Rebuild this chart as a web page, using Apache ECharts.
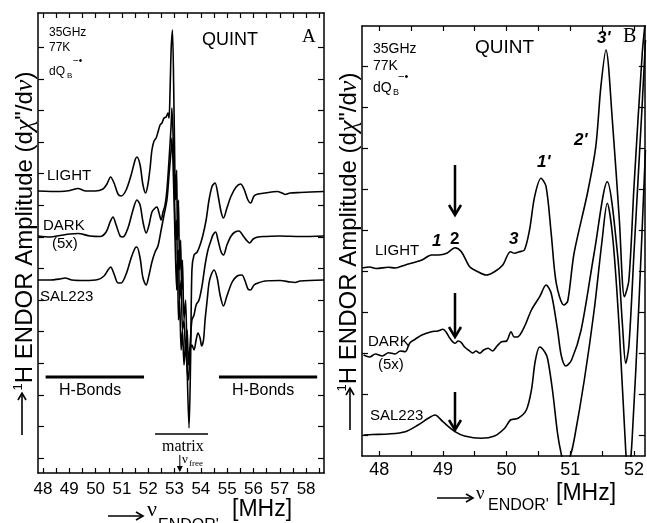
<!DOCTYPE html>
<html>
<head>
<meta charset="utf-8">
<title>QUINT 1H ENDOR</title>
<script src="https://cdn.jsdelivr.net/npm/echarts@6.0.0/dist/echarts.min.js"></script>
<style>
html, body { margin: 0; padding: 0; background: #fff; }
#chart { width: 647px; height: 523px; }
</style>
</head>
<body>
<div id="chart"></div>
<script>
// panel A : full 1H ENDOR spectra, [MHz, amplitude a.u.]
var lightA = [[47.81,282],[48.65,281.5],[49.03,282.5],[49.33,284.5],[49.63,282],[49.98,282],[50.28,284],[50.43,289],[50.57,296],[50.70,290],[50.85,279],[50.97,277],[51.16,283],[51.35,298],[51.50,313],[51.57,316],[51.69,308],[51.80,288],[51.90,280],[51.99,289],[52.07,305],[52.14,323],[52.22,332],[52.30,335],[52.37,341],[52.45,348],[52.52,350],[52.60,355],[52.68,356],[52.75,360],[52.79,355],[52.83,383],[52.87,423],[52.92,443],[52.98,363],[53.04,273],[53.08,303],[53.11,233],[53.15,273],[53.19,203],[53.23,233],[53.27,183],[53.30,213],[53.36,153],[53.42,173],[53.48,103],[53.55,45],[53.61,113],[53.66,203],[53.74,218],[53.86,221],[53.97,228],[54.08,238],[54.20,253],[54.31,273],[54.43,287],[54.54,290],[54.65,278],[54.77,261],[54.86,255],[54.99,265],[55.15,277],[55.34,286],[55.51,289],[55.64,284],[55.79,273],[55.89,270],[56.02,277],[56.17,279],[56.44,280],[56.90,281.5],[57.09,280],[57.20,278.5],[57.39,280],[57.77,280.5],[58.68,281.5]];
var darkA = [[47.81,237],[48.27,236],[48.65,237.5],[49.03,239],[49.33,239.5],[49.79,237],[50.17,236.5],[50.40,241],[50.55,251],[50.66,256],[50.78,248],[50.93,237],[51.04,236],[51.23,245],[51.42,263],[51.57,273],[51.69,268],[51.80,251],[51.92,240],[52.03,248],[52.14,261],[52.26,265],[52.33,266],[52.41,260],[52.49,253],[52.56,261],[52.64,268],[52.71,283],[52.79,313],[52.87,348],[52.90,365],[52.96,323],[53.00,273],[53.04,233],[53.08,253],[53.11,203],[53.15,223],[53.19,173],[53.25,193],[53.30,143],[53.36,153],[53.42,118],[53.48,143],[53.53,108],[53.59,128],[53.66,153],[53.74,158],[53.82,168],[53.93,173],[54.05,188],[54.16,208],[54.27,223],[54.39,233],[54.46,238],[54.56,241],[54.65,233],[54.77,221],[54.86,218],[54.99,228],[55.15,237],[55.30,241],[55.45,242],[55.61,237],[55.76,232],[55.85,230],[55.99,234],[56.17,236],[56.44,236.5],[57.01,237],[57.77,236.5],[58.68,237]];
var salA = [[47.81,193],[48.27,193],[48.65,194],[48.84,195],[49.10,193],[49.60,192.5],[50.09,193.5],[50.32,197],[50.47,203],[50.57,206],[50.70,199],[50.85,190],[50.97,190],[51.16,199],[51.35,215],[51.50,225],[51.57,226],[51.69,215],[51.80,195],[51.92,188],[52.03,198],[52.14,211],[52.26,221],[52.37,227],[52.49,243],[52.60,258],[52.71,273],[52.79,298],[52.87,323],[52.90,335],[52.96,293],[53.02,233],[53.08,183],[53.11,213],[53.15,153],[53.19,173],[53.25,123],[53.30,143],[53.36,108],[53.42,128],[53.48,103],[53.53,93],[53.59,123],[53.66,128],[53.74,123],[53.82,133],[53.89,140],[53.97,135],[54.03,127],[54.10,133],[54.16,153],[54.24,173],[54.31,190],[54.39,198],[54.50,203],[54.62,195],[54.73,178],[54.86,167],[54.99,177],[55.19,191],[55.38,197],[55.56,198],[55.68,192],[55.79,184],[55.89,183],[56.02,188],[56.17,190],[56.44,192],[57.01,192.5],[57.39,191],[57.58,190.5],[57.77,192],[58.68,193]];

// panel B : low frequency wing, expanded
var lightB = [[47.73,188],[47.85,189],[47.95,187.5],[48.145,188.7],[48.25,188],[48.41,191],[48.67,196],[48.82,201],[48.93,201],[49.06,202.7],[49.19,208.3],[49.29,204.3],[49.42,189.3],[49.55,184.3],[49.68,181],[49.81,184.3],[49.94,191],[50.06,204.3],[50.125,202.7],[50.20,204.3],[50.28,206],[50.36,226],[50.44,259.3],[50.54,277.7],[50.62,269.3],[50.70,222.7],[50.78,172.7],[50.90,151],[50.96,155],[51.06,203],[51.27,263],[51.40,309.3],[51.48,369.3],[51.56,406],[51.66,336],[51.77,236],[51.85,159.3],[51.92,176],[52.00,269.3],[52.13,403],[52.18,436]];
var darkB = [[47.755,101],[47.85,99],[47.94,102],[48.05,100],[48.145,103.3],[48.25,102],[48.33,105],[48.41,104.3],[48.48,113],[48.57,117],[48.67,121],[48.82,124.3],[48.92,125],[49.00,126.7],[49.05,124],[49.11,117.7],[49.19,112.7],[49.24,115],[49.29,113.3],[49.34,109],[49.40,106],[49.47,103],[49.52,105],[49.58,102.7],[49.64,106],[49.71,107.7],[49.78,105],[49.85,110],[49.92,114.3],[50.00,115],[50.07,124.3],[50.12,119],[50.18,119.3],[50.28,129.3],[50.39,146],[50.52,159.3],[50.62,171],[50.70,162.7],[50.80,126],[50.86,100],[50.93,90],[51.02,96],[51.17,126],[51.375,203],[51.58,274.3],[51.74,203],[51.82,130],[51.87,92.7],[51.92,110],[52.00,203],[52.13,353],[52.18,416]];
var salB = [[47.755,21],[47.9,21.5],[48.145,22],[48.41,24.3],[48.61,31],[48.77,37.7],[48.875,41],[49.00,34.3],[49.19,24.3],[49.34,20],[49.60,17.7],[49.81,20],[49.97,27.7],[50.06,36],[50.18,37.7],[50.31,46],[50.39,66],[50.45,95],[50.52,109],[50.60,104],[50.645,97],[50.72,66],[50.80,22.7],[50.855,3],[50.92,-12],[51.00,0],[51.06,16],[51.22,76],[51.375,146],[51.50,216],[51.58,252.7],[51.67,216],[51.77,126],[51.87,6],[51.91,-24],[51.97,16],[52.08,156],[52.18,306]];

// axis ticks and labels
var ticksXA = [48,48.5,49,49.5,50,50.5,51,51.5,52,52.5,53,53.5,54,54.5,55,55.5,56,56.5,57,57.5,58,58.5];
var labelsXA = [48,49,50,51,52,53,54,55,56,57,58];
var ticksYA = [15,46.6,78.2,109.8,141.4,173,204.6,236.2,267.8,299.4,331,362.6,394.2,425.8];
var ticksXB = [48,48.5,49,49.5,50,50.5,51,51.5,52];
var labelsXB = [48,49,50,51,52];
var ticksYB = [21,62,103,144,185,226,267,308,349,390];

// annotations, data units: [from MHz, to MHz, level] / [MHz, top, tip]
var hBondsA = [[48.10,51.84,96],[54.69,58.42,96]];
var matrixA = [[52.26,54.27,39]];
var nuFreeA = [[53.2,18,1]];
var arrowsB = [[49.19,291,241],[49.19,163,119],[49.19,64,26]];

var SANS = 'Liberation Sans';
var SERIF = 'Liberation Serif';

function xAx(grid, pos, min, max, ticks, labels, fs, margin) {
  return {
    type: 'value', gridIndex: grid, position: pos, min: min, max: max,
    axisLine: { show: true, onZero: false, lineStyle: { color: '#000', width: 1.5 } },
    axisTick: { show: true, inside: true, length: 5, customValues: ticks, lineStyle: { color: '#000', width: 1.2 } },
    axisLabel: { show: !!labels, customValues: labels || undefined, color: '#000', fontSize: fs, fontFamily: SANS, margin: margin },
    splitLine: { show: false }
  };
}
function yAx(grid, pos, max, ticks) {
  return {
    type: 'value', gridIndex: grid, position: pos, min: 0, max: max,
    axisLine: { show: true, onZero: false, lineStyle: { color: '#000', width: 1.5 } },
    axisTick: { show: true, inside: true, length: 6, customValues: ticks, lineStyle: { color: '#000', width: 1.2 } },
    axisLabel: { show: false },
    splitLine: { show: false }
  };
}
function spec(data, xi, yi) {
  return {
    type: 'line', xAxisIndex: xi, yAxisIndex: yi, data: data,
    showSymbol: false, symbol: 'none', smooth: 0.3, silent: true,
    lineStyle: { color: '#000', width: 1.6 }
  };
}
function barItem(params, api) {
  var a = api.coord([api.value(0), api.value(2)]);
  var b = api.coord([api.value(1), api.value(2)]);
  return { type: 'line', shape: { x1: a[0], y1: a[1], x2: b[0], y2: b[1] },
    style: { stroke: '#000', lineWidth: params.seriesName == 'matrix' ? 1.5 : 3 } };
}
function arrowItem(params, api) {
  var top = api.coord([api.value(0), api.value(1)]);
  var tip = api.coord([api.value(0), api.value(2)]);
  var thin = params.seriesName == 'nufree';
  var w = thin ? 3 : 6, h = thin ? 6 : 10, lw = thin ? 1 : 2.5;
  return { type: 'group', children: [
    { type: 'line', shape: { x1: top[0], y1: top[1], x2: tip[0], y2: tip[1] - 1 }, style: { stroke: '#000', lineWidth: lw } },
    thin
      ? { type: 'polygon', shape: { points: [[tip[0] - w, tip[1] - h], [tip[0], tip[1]], [tip[0] + w, tip[1] - h]] }, style: { fill: '#000' } }
      : { type: 'polyline', shape: { points: [[tip[0] - w, tip[1] - h], [tip[0], tip[1]], [tip[0] + w, tip[1] - h]] }, style: { stroke: '#000', lineWidth: lw, fill: null } }
  ] };
}
function t(x, y, s, size, fam, extra) {
  var st = { text: s, fontSize: size, fontFamily: fam || SANS, fill: '#000', textAlign: 'left', textVerticalAlign: 'middle' };
  if (extra) { for (var k in extra) { st[k] = extra[k]; } }
  return { type: 'text', x: x, y: y, style: st, silent: true };
}
function arrowG(x1, y1, x2, y2) {
  var dx = x2 - x1, dy = y2 - y1, len = Math.sqrt(dx * dx + dy * dy);
  var ux = dx / len, uy = dy / len, h = 7, w = 4;
  return { type: 'group', silent: true, children: [
    { type: 'line', shape: { x1: x1, y1: y1, x2: x2, y2: y2 }, style: { stroke: '#000', lineWidth: 1.6 } },
    { type: 'polyline', shape: { points: [[x2 - ux * h - uy * w, y2 - uy * h + ux * w], [x2, y2], [x2 - ux * h + uy * w, y2 - uy * h - ux * w]] },
      style: { stroke: '#000', lineWidth: 1.6, fill: null } }
  ] };
}
function yTitle(x, y) {
  return { type: 'text', x: x, y: y, rotation: Math.PI / 2, silent: true,
    style: {
      text: '{s|1}{n|H ENDOR Amplitude (d}{g|χ}{n|"/d}{g|ν}{n|)}',
      textAlign: 'center', textVerticalAlign: 'middle', fill: '#000',
      rich: {
        s: { fontSize: 13, fontFamily: SANS, verticalAlign: 'top', fill: '#000' },
        n: { fontSize: 24, fontFamily: SANS, fill: '#000' },
        g: { fontSize: 26, fontFamily: SERIF, fontStyle: 'italic', fill: '#000' }
      }
    } };
}

var chart = echarts.init(document.getElementById('chart'), null, { renderer: 'canvas' });
var option = {
  animation: false,
  backgroundColor: '#fff',
  grid: [
    { left: 38, top: 13, width: 286, height: 460 },
    { left: 362, top: 26, width: 284, height: 430 }
  ],
  xAxis: [
    xAx(0, 'bottom', 47.81, 58.68, ticksXA, labelsXA, 17, 8),
    xAx(0, 'top', 47.81, 58.68, ticksXA, null),
    xAx(1, 'bottom', 47.73, 52.17, ticksXB, labelsXB, 18, 5),
    xAx(1, 'top', 47.73, 52.17, ticksXB, null)
  ],
  yAxis: [
    yAx(0, 'left', 460, ticksYA),
    yAx(0, 'right', 460, ticksYA),
    yAx(1, 'left', 430, ticksYB),
    yAx(1, 'right', 430, ticksYB)
  ],
  series: [
    spec(lightA, 0, 0), spec(darkA, 0, 0), spec(salA, 0, 0),
    spec(lightB, 2, 2), spec(darkB, 2, 2), spec(salB, 2, 2),
    { type: 'custom', name: 'hbonds', xAxisIndex: 0, yAxisIndex: 0, data: hBondsA, encode: { x: [0, 1], y: 2 }, renderItem: barItem, silent: true },
    { type: 'custom', name: 'matrix', xAxisIndex: 0, yAxisIndex: 0, data: matrixA, encode: { x: [0, 1], y: 2 }, renderItem: barItem, silent: true },
    { type: 'custom', name: 'nufree', xAxisIndex: 0, yAxisIndex: 0, data: nuFreeA, encode: { x: 0, y: [1, 2] }, renderItem: arrowItem, silent: true },
    { type: 'custom', name: 'arrowsB', xAxisIndex: 2, yAxisIndex: 2, data: arrowsB, encode: { x: 0, y: [1, 2] }, renderItem: arrowItem, silent: true }
  ],
  graphic: [
    // panel A
    t(49, 33, '35GHz', 12), t(49, 48, '77K', 12), t(49, 72, 'dQ', 12), t(67, 76, 'B', 8), t(73, 61, '−•', 10),
    t(202, 40, 'QUINT', 18), t(302, 37, 'A', 19, SERIF),
    t(47, 176, 'LIGHT', 15), t(43, 226, 'DARK', 15), t(52, 244, '(5x)', 15), t(40, 297, 'SAL223', 15),
    t(59, 391, 'H-Bonds', 16), t(232, 391, 'H-Bonds', 16),
    t(162, 447, 'matrix', 16, SERIF), t(182, 460, 'ν', 13, SERIF), t(189, 464, 'free', 9, SERIF),
    arrowG(108, 516, 143, 516), t(147, 510, 'ν', 22, SERIF), t(158, 526, "ENDOR'", 16), t(232, 510, '[MHz]', 23),
    yTitle(25, 231), arrowG(22, 435, 22, 393),
    // panel B
    t(373, 49, '35GHz', 14), t(373, 66, '77K', 14), t(373, 88, 'dQ', 14), t(393, 93, 'B', 9), t(398, 77, '−•', 11),
    t(475, 48, 'QUINT', 19), t(623, 37, 'B', 20, SERIF),
    t(375, 251, 'LIGHT', 15), t(368, 342, 'DARK', 15), t(378, 365, '(5x)', 15), t(370, 416, 'SAL223', 15),
    t(432, 241, '1', 17, SANS, { fontWeight: 'bold', fontStyle: 'italic' }),
    t(450, 239, '2', 17, SANS, { fontWeight: 'bold' }),
    t(509, 239, '3', 17, SANS, { fontWeight: 'bold', fontStyle: 'italic' }),
    t(537, 162, "1'", 17, SANS, { fontWeight: 'bold', fontStyle: 'italic' }),
    t(574, 140, "2'", 17, SANS, { fontWeight: 'bold', fontStyle: 'italic' }),
    t(597, 38, "3'", 17, SANS, { fontWeight: 'bold', fontStyle: 'italic' }),
    arrowG(437, 498, 473, 498), t(476, 494, 'ν', 19, SERIF), t(488, 506, "ENDOR'", 16), t(556, 494, '[MHz]', 23),
    yTitle(349, 232), arrowG(350, 430, 350, 388)
  ]
};
chart.setOption(option);
</script>
</body>
</html>
